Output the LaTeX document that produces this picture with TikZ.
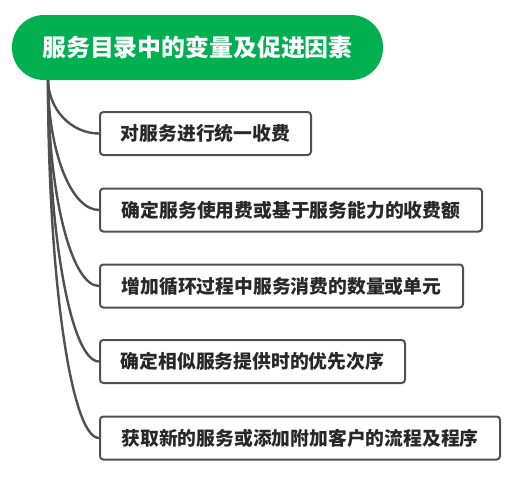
\documentclass[tikz,border=0pt]{standalone}
\usepackage{fontspec}
\setmainfont{Noto Sans CJK SC}
\definecolor{rootgreen}{RGB}{0,176,80}
\definecolor{boxline}{RGB}{80,80,80}
\definecolor{txt}{RGB}{40,40,40}
\tikzset{
  rootbox/.style={fill=rootgreen, draw=none, rounded corners=24pt, minimum width=278.25pt, minimum height=48.75pt, text=white, font=\fontsize{17.9}{20}\selectfont\bfseries, inner sep=0pt},
  leafbox/.style={draw=boxline, fill=white, line width=1.5pt, rounded corners=2.5pt, minimum height=32.25pt, anchor=west, text=txt, font=\fontsize{14.1}{16}\selectfont\bfseries, inner sep=0pt},
  link/.style={draw=boxline, line width=1.8pt}
}
\begin{document}
\begin{tikzpicture}[x=0.75pt,y=-0.75pt]
\useasboundingbox (0,0) rectangle (513,482);
\coordinate (hub) at (48,79);
\node[leafbox, minimum width=158.25pt] (c1) at (99,133.5) {对服务进行统一收费};
\node[leafbox, minimum width=286.5pt] (c2) at (99,210) {确定服务使用费或基于服务能力的收费额};
\node[leafbox, minimum width=272.25pt] (c3) at (99,286) {增加循环过程中服务消费的数量或单元};
\node[leafbox, minimum width=228.75pt] (c4) at (99,361.5) {确定相似服务提供时的优先次序};
\node[leafbox, minimum width=300pt] (c5) at (99,438) {获取新的服务或添加附加客户的流程及程序};
\foreach \c/\y in {c1/133.5,c2/210,c3/286,c4/361.5,c5/438}{
  \pgfmathsetmacro{\cy}{79+0.55*(\y-79)}
  \draw[link] (hub) .. controls (48,\cy) and (71,\y) .. (\c.west);
}
\node[rootbox] (root) at (197.5,47.5) {服务目录中的变量及促进因素};
\end{tikzpicture}
\end{document}
